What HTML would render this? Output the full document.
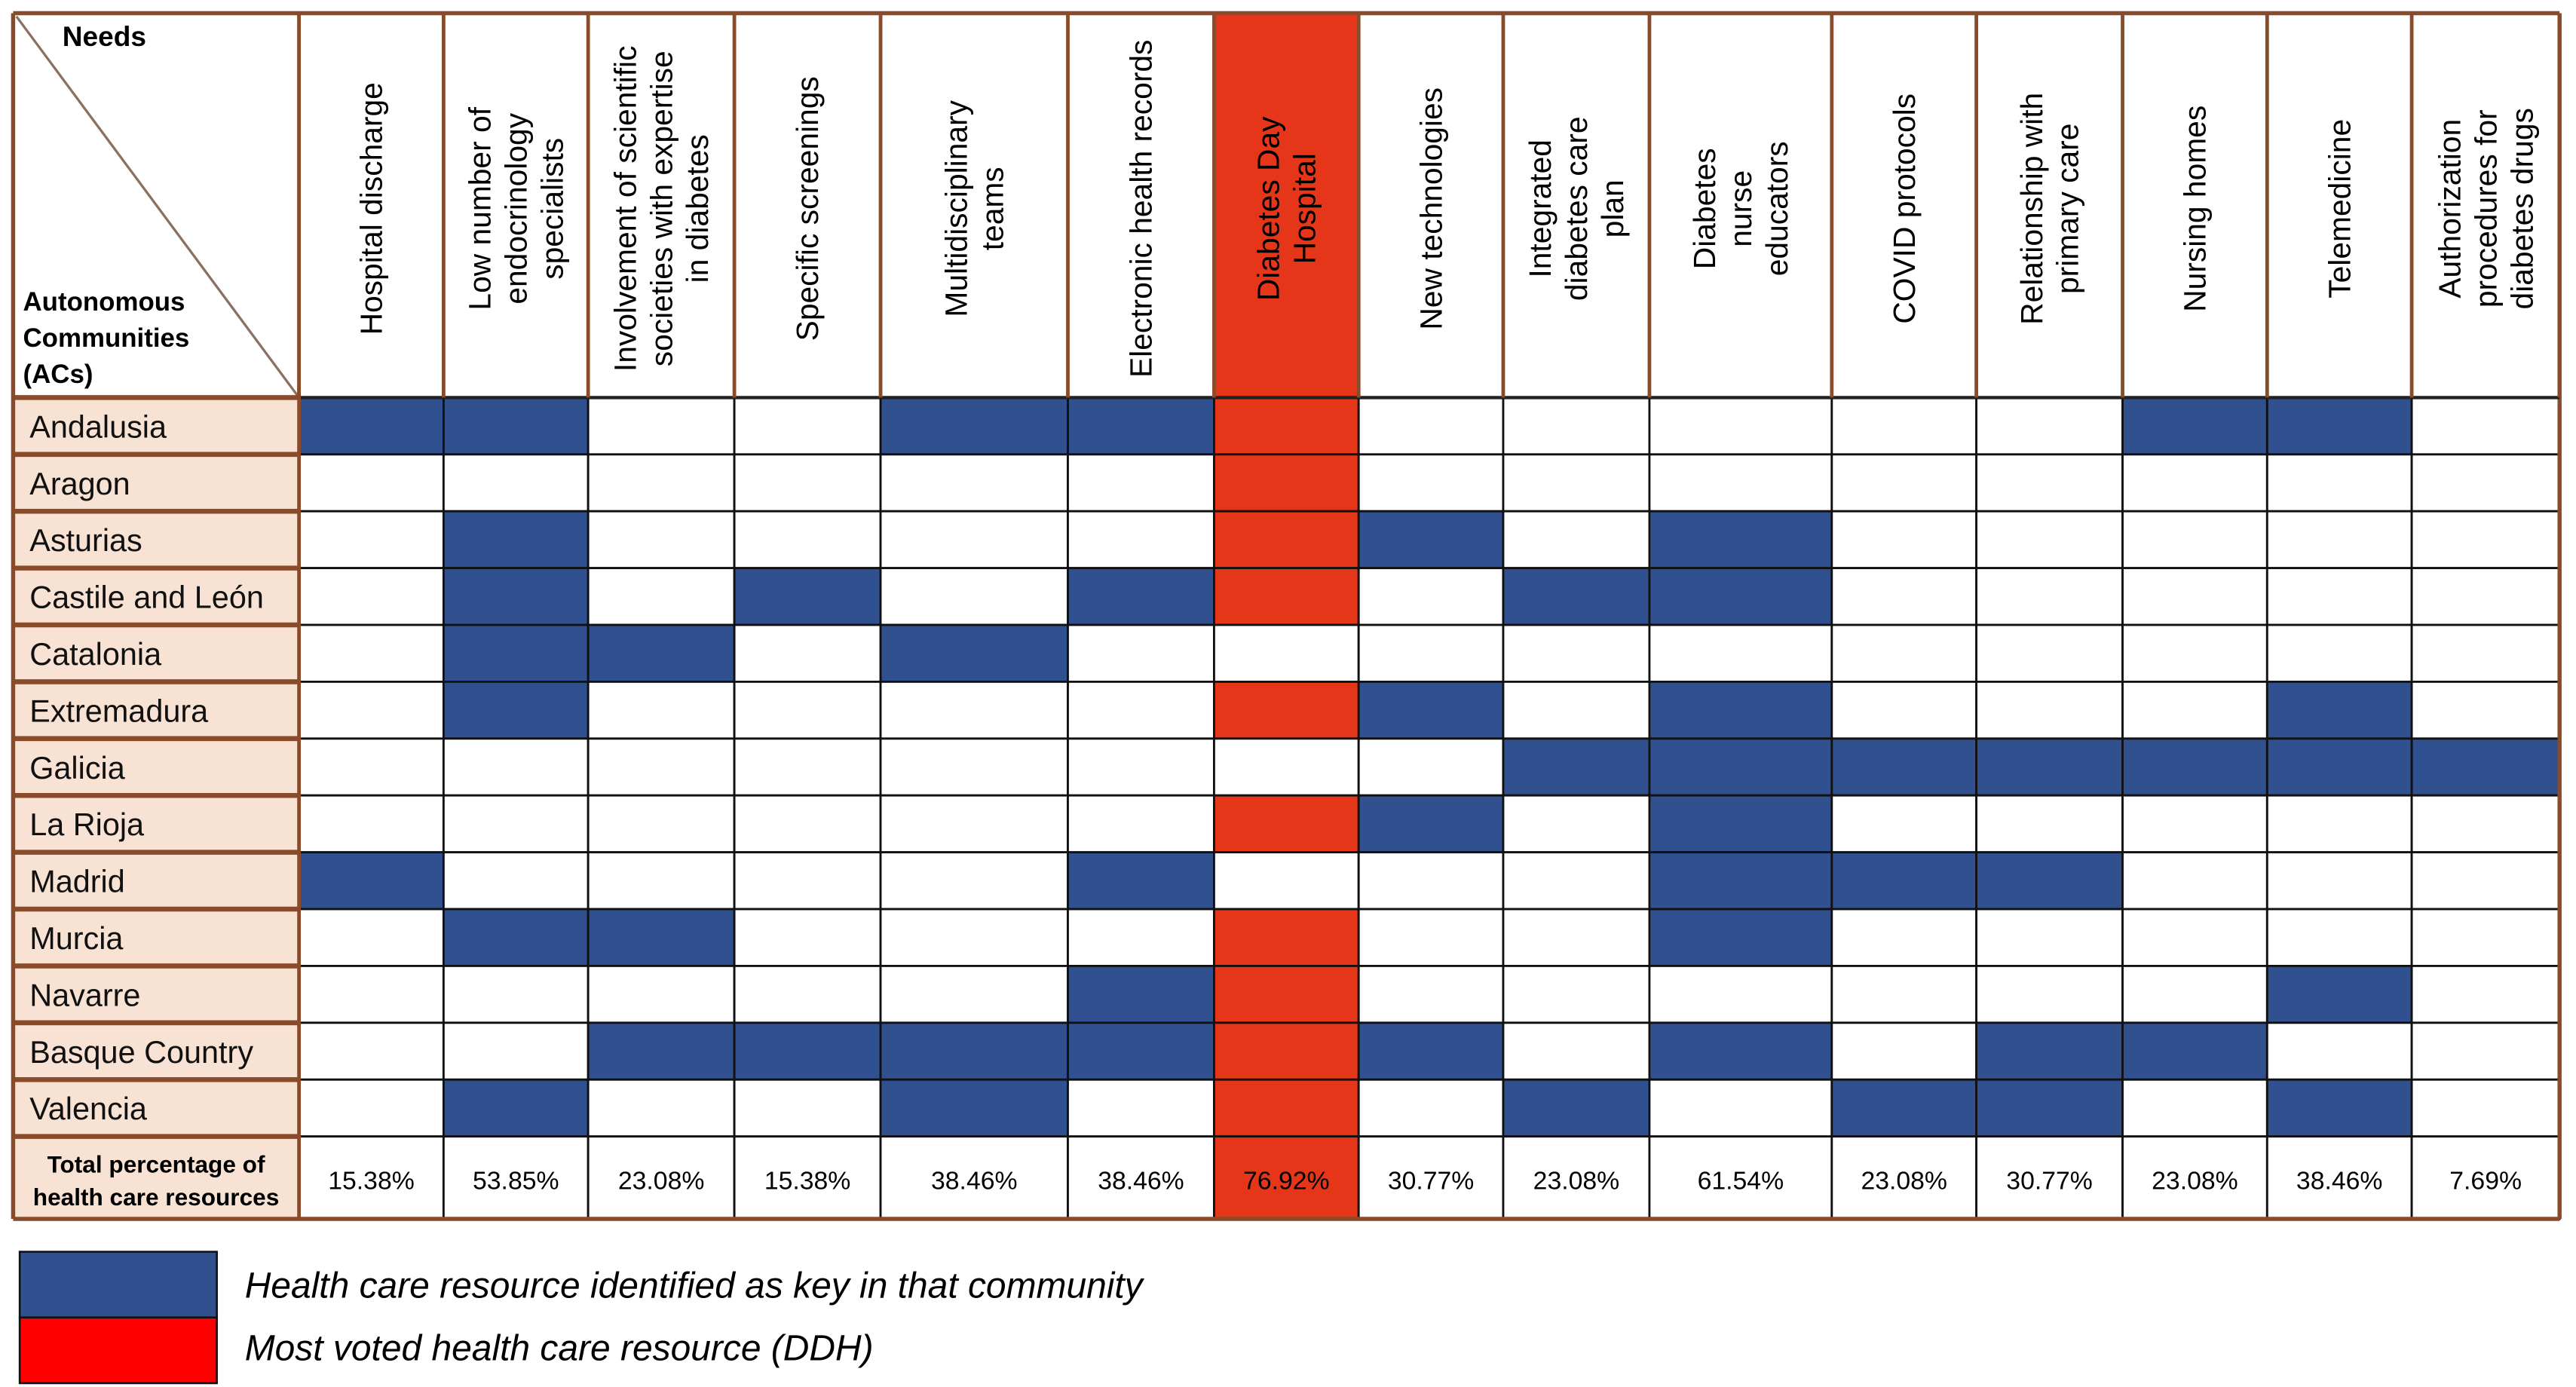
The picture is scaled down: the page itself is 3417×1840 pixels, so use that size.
<!DOCTYPE html>
<html><head><meta charset="utf-8"><style>
html,body{margin:0;padding:0;background:#fff;}
svg{display:block;}
text{font-family:"Liberation Sans",Arial,sans-serif;}
</style></head><body>
<svg id="chart" width="3417" height="1840" viewBox="0 0 1568 844.3" xmlns="http://www.w3.org/2000/svg"></svg>
<script>
const needs = [
 ["Hospital discharge"],
 ["Low number of","endocrinology","specialists"],
 ["Involvement of scientific","societies with expertise","in diabetes"],
 ["Specific screenings"],
 ["Multidisciplinary","teams"],
 ["Electronic health records"],
 ["Diabetes Day","Hospital"],
 ["New technologies"],
 ["Integrated","diabetes care","plan"],
 ["Diabetes","nurse","educators"],
 ["COVID protocols"],
 ["Relationship with","primary care"],
 ["Nursing homes"],
 ["Telemedicine"],
 ["Authorization","procedures for","diabetes drugs"]
];
const communities = ["Andalusia","Aragon","Asturias","Castile and León","Catalonia","Extremadura","Galicia","La Rioja","Madrid","Murcia","Navarre","Basque Country","Valencia"];
// 0 = not key, 1 = key (blue), 2 = most voted DDH (red)
const grid = [
 [1,1,0,0,1,1,2,0,0,0,0,0,1,1,0],
 [0,0,0,0,0,0,2,0,0,0,0,0,0,0,0],
 [0,1,0,0,0,0,2,1,0,1,0,0,0,0,0],
 [0,1,0,1,0,1,2,0,1,1,0,0,0,0,0],
 [0,1,1,0,1,0,0,0,0,0,0,0,0,0,0],
 [0,1,0,0,0,0,2,1,0,1,0,0,0,1,0],
 [0,0,0,0,0,0,0,0,1,1,1,1,1,1,1],
 [0,0,0,0,0,0,2,1,0,1,0,0,0,0,0],
 [1,0,0,0,0,1,0,0,0,1,1,1,0,0,0],
 [0,1,1,0,0,0,2,0,0,1,0,0,0,0,0],
 [0,0,0,0,0,1,2,0,0,0,0,0,0,1,0],
 [0,0,1,1,1,1,2,1,0,1,0,1,1,0,0],
 [0,1,0,0,1,0,2,0,1,0,1,1,0,1,0]
];
const totals = ["15.38%","53.85%","23.08%","15.38%","38.46%","38.46%","76.92%","30.77%","23.08%","61.54%","23.08%","30.77%","23.08%","38.46%","7.69%"];
const colEdges = [182,270,358,447,536,650,739,827,915,1004,1115,1203,1292,1380,1468,1558];

const NS="http://www.w3.org/2000/svg";
const svg=document.getElementById('chart');
function el(tag,attrs,parent){const e=document.createElementNS(NS,tag);for(const k in attrs)e.setAttribute(k,attrs[k]);(parent||svg).appendChild(e);return e;}
const tLeft=8,tRight=1558,tableTop=8,headBottom=242,rowH=34.6,labelRight=182;
const rowY=i=>headBottom+i*rowH;
const totTop=rowY(communities.length), totBottom=742;
const BLUE="#30508f", RED="#e5361a", PEACH="#f7e2d3", BROWN="#8a4b2b";

el('rect',{x:tLeft,y:tableTop,width:labelRight-tLeft,height:headBottom-tableTop,fill:"#fff"});
const dg=el('line',{x1:tLeft+2,y1:tableTop+2,x2:labelRight,y2:headBottom,stroke:"#8a7060","stroke-width":1.5});


let t=el('text',{x:38,y:28,"font-size":17,"font-weight":"bold",fill:"#000"});t.textContent="Needs";


["Autonomous","Communities","(ACs)"].forEach((s,i)=>{const tt=el('text',{x:14,y:189+i*22,"font-size":16,"font-weight":"bold",fill:"#000"});tt.textContent=s;

});

needs.forEach((lines,c)=>{
  const x0=colEdges[c],x1=colEdges[c+1],cx=(x0+x1)/2;
  const r=el('rect',{x:x0,y:tableTop,width:x1-x0,height:headBottom-tableTop,fill:c===6?RED:"#fff"});
  
  
  const lh=22, n=lines.length;
  lines.forEach((s,i)=>{
    const off=(i-(n-1)/2)*lh+6.5;
    const tx=el('text',{x:0,y:0,"font-size":18.7,fill:"#000","text-anchor":"middle",transform:`translate(${cx+off},127) rotate(-90)`});
    tx.textContent=s;
    
    
  });
});

communities.forEach((name,r)=>{
  const y=rowY(r);
  const lb=el('rect',{x:tLeft,y:y,width:labelRight-tLeft,height:rowH,fill:PEACH});
  
  
  const tx=el('text',{x:18,y:y+rowH/2+7,"font-size":19,fill:"#111"});
  tx.textContent=name;
  
  
  grid[r].forEach((v,c)=>{
    const cell=el('rect',{x:colEdges[c],y:y,width:colEdges[c+1]-colEdges[c],height:rowH,fill:v===1?BLUE:(v===2?RED:"#fff"),stroke:"#111","stroke-width":1.3});
    
    
  });
});

const tb=el('rect',{x:tLeft,y:totTop,width:labelRight-tLeft,height:totBottom-totTop,fill:PEACH});


["Total percentage of","health care resources"].forEach((s,i)=>{const tt=el('text',{x:(tLeft+labelRight)/2,y:totTop+22+i*20,"font-size":14.5,"font-weight":"bold","text-anchor":"middle",fill:"#000"});tt.textContent=s;

});
totals.forEach((v,c)=>{
  const x0=colEdges[c],x1=colEdges[c+1];
  const r=el('rect',{x:x0,y:totTop,width:x1-x0,height:totBottom-totTop,fill:c===6?RED:"#fff",stroke:"#111","stroke-width":1.3});
  
  
  const tx=el('text',{x:(x0+x1)/2,y:totTop+32,"font-size":15.5,"text-anchor":"middle",fill:"#000"});
  tx.textContent=v;
  
  
});

el('line',{x1:tLeft,y1:tableTop,x2:tRight,y2:tableTop,stroke:BROWN,"stroke-width":2.5});
el('line',{x1:tLeft,y1:tableTop,x2:tLeft,y2:totBottom,stroke:BROWN,"stroke-width":2.5});
el('line',{x1:tRight,y1:tableTop,x2:tRight,y2:totBottom,stroke:BROWN,"stroke-width":2.5});
el('line',{x1:tLeft,y1:totBottom,x2:tRight,y2:totBottom,stroke:BROWN,"stroke-width":2.5});
el('line',{x1:tLeft,y1:headBottom,x2:tRight,y2:headBottom,stroke:"#222","stroke-width":2});
colEdges.forEach(x=>el('line',{x1:x,y1:tableTop,x2:x,y2:headBottom,stroke:BROWN,"stroke-width":2.2}));
el('line',{x1:labelRight,y1:tableTop,x2:labelRight,y2:totBottom,stroke:BROWN,"stroke-width":2.2});
for(let r=0;r<=communities.length;r++){el('line',{x1:tLeft,y1:rowY(r),x2:labelRight,y2:rowY(r),stroke:BROWN,"stroke-width":3});}

const lb1=el('rect',{x:12,y:762,width:120,height:40,fill:BLUE,stroke:"#111","stroke-width":1.2});


const lb2=el('rect',{x:12,y:802,width:120,height:40,fill:"#ff0000",stroke:"#111","stroke-width":1.2});


const l1=el('text',{x:149,y:790,"font-size":22,"font-style":"italic",fill:"#000"});l1.textContent="Health care resource identified as key in that community";


const l2=el('text',{x:149,y:828,"font-size":22,"font-style":"italic",fill:"#000"});l2.textContent="Most voted health care resource (DDH)";


</script>
</body></html>
